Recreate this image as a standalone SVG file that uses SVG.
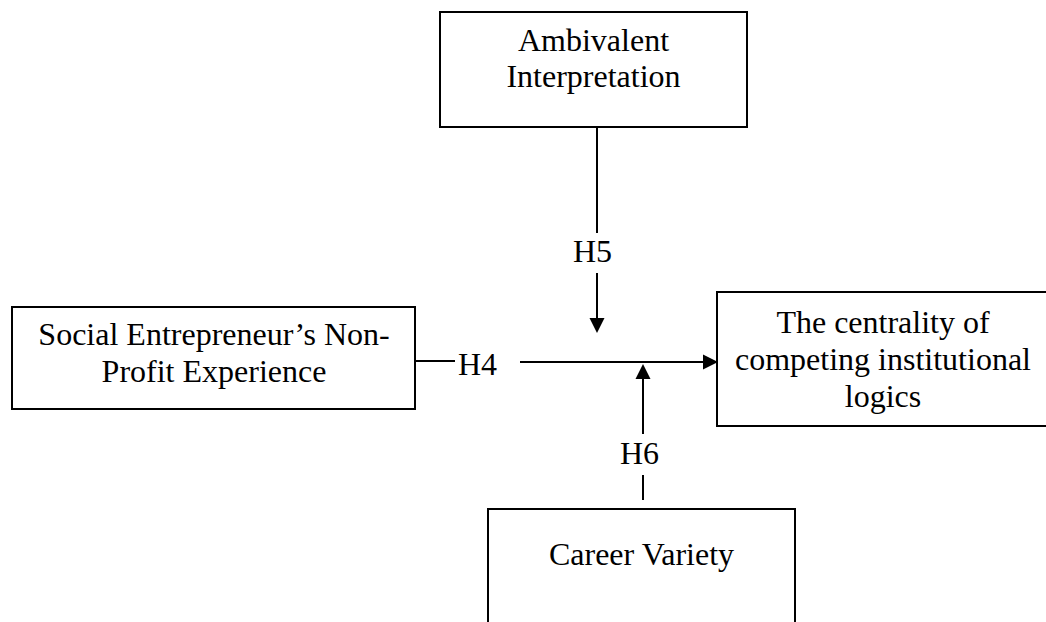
<svg xmlns="http://www.w3.org/2000/svg" width="1046" height="622" viewBox="0 0 1046 622">
<style>
.box{fill:#fff;stroke:#000;stroke-width:2}
.lbl{font-family:"Liberation Serif","Times New Roman",serif;font-size:32px;fill:#000}
.c{text-anchor:middle}
.ln{stroke:#000;stroke-width:2;fill:none}
</style>
<defs>
<marker id="ah" markerUnits="userSpaceOnUse" markerWidth="16" markerHeight="16" refX="0" refY="7.5" orient="auto" viewBox="0 0 16 15">
<path d="M0,0 L15,7.5 L0,15 z" fill="#000"/>
</marker>
</defs>
<rect width="1046" height="622" fill="#fff"/>
<g id="node-ambivalent">
<rect class="box" x="440" y="12" width="307" height="115"/>
<text class="lbl c" x="593.5" y="51">Ambivalent</text>
<text class="lbl c" x="593.5" y="87">Interpretation</text>
</g>
<g id="node-nonprofit">
<rect class="box" x="12" y="307" width="403" height="102"/>
<text class="lbl c" x="214" y="345">Social Entrepreneur’s Non-</text>
<text class="lbl c" x="214" y="382">Profit Experience</text>
</g>
<g id="node-centrality">
<rect class="box" x="717" y="292" width="335" height="134"/>
<text class="lbl c" x="883" y="333">The centrality of</text>
<text class="lbl c" x="883" y="370">competing institutional</text>
<text class="lbl c" x="883" y="407">logics</text>
</g>
<g id="node-career">
<rect class="box" x="488" y="509" width="307" height="130"/>
<text class="lbl c" x="641.5" y="565">Career Variety</text>
</g>
<g id="connectors">
<line class="ln" x1="597" y1="127" x2="597" y2="233"/>
<text class="lbl" x="573" y="262">H5</text>
<line class="ln" x1="597" y1="273" x2="597" y2="318" marker-end="url(#ah)"/>
<line class="ln" x1="415" y1="361" x2="455" y2="361"/>
<text class="lbl" x="458" y="375">H4</text>
<line class="ln" x1="520" y1="362" x2="703" y2="362" marker-end="url(#ah)"/>
<line class="ln" x1="643" y1="500" x2="643" y2="475"/>
<text class="lbl" x="620" y="464">H6</text>
<line class="ln" x1="643" y1="434" x2="643" y2="379" marker-end="url(#ah)"/>
</g>
</svg>
